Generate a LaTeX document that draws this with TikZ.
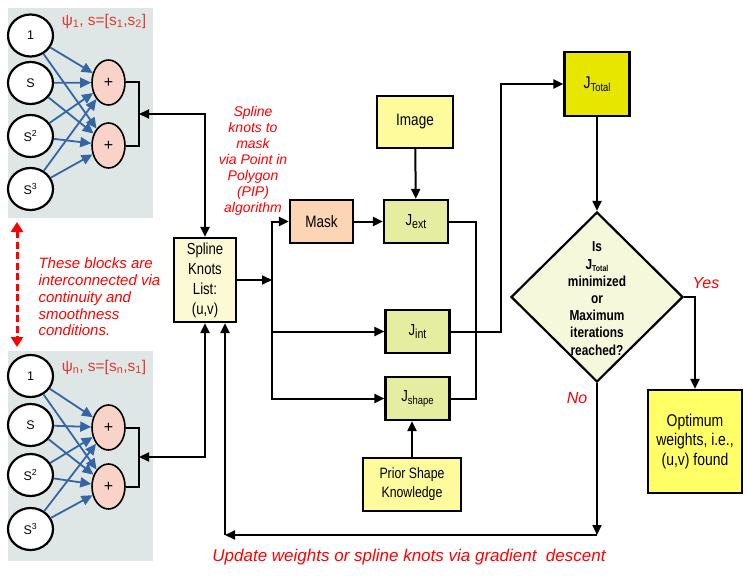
\documentclass[tikz,border=0pt]{standalone}
\usepackage{fontspec}
\setmainfont{Liberation Sans}
\newfontfamily\nar[FakeStretch=0.82]{Liberation Sans}
\usetikzlibrary{arrows.meta,shapes.geometric,calc}
\definecolor{panelc}{HTML}{DFE6E6}
\definecolor{plusc}{HTML}{F9D3C8}
\definecolor{skc}{HTML}{FCFAD5}
\definecolor{maskc}{HTML}{FCD5B4}
\definecolor{jc}{HTML}{E5EEA0}
\definecolor{imgc}{HTML}{FDFB9C}
\definecolor{jtc}{HTML}{E6E600}
\definecolor{diac}{HTML}{F6F8DC}
\definecolor{optc}{HTML}{FFFF66}
\definecolor{psic}{HTML}{DD3B30}
\definecolor{netblue}{HTML}{3465A4}
\definecolor{redc}{HTML}{FF0000}
\newcommand{\Jlab}[2]{J\raisebox{-0.3ex}{\fontsize{#2}{#2}\selectfont #1}}
\begin{document}
\begin{tikzpicture}[x=1pt,y=-1pt,
 blk/.style={draw=black, line width=2.2pt, inner sep=0pt, align=center, font=\nar\fontsize{16}{20}\selectfont},
 inp/.style={ellipse, draw=black, line width=2.2pt, fill=white, minimum width=45pt, minimum height=42pt, inner sep=0pt, font=\fontsize{12.5}{12.5}\selectfont},
 plusn/.style={ellipse, draw=black, line width=1.6pt, fill=plusc, minimum width=33pt, minimum height=45pt, inner sep=0pt, font=\fontsize{16}{16}\selectfont},
 barr/.style={draw=netblue, line width=1.8pt, -{Triangle[length=11pt,width=10pt]}},
 kline/.style={line width=2pt, line cap=rect},
 karr/.style={line width=2pt, -{Triangle[length=10pt,width=9pt]}},
 karrr/.style={line width=2pt, {Triangle[length=10pt,width=9pt]}-{Triangle[length=10pt,width=9pt]}},
 redlab/.style={text=redc, font=\itshape\fontsize{15}{16.8}\selectfont},
 psilab/.style={text=psic, font=\fontsize{15.5}{16}\selectfont}
]
\useasboundingbox (0,0) rectangle (747,578);
% panels
\fill[panelc] (8,8) rectangle (153,218);
\fill[panelc] (8,351) rectangle (153,561);
% top network
\node[inp] (a1) at (30.5,35.5) {1};
\node[inp] (a2) at (30.5,83) {S};
\node[inp] (a3) at (30.5,136) {S\textsuperscript{2}};
\node[inp] (a4) at (30.5,189) {S\textsuperscript{3}};
\node[plusn] (ap1) at (108.5,82.5) {+};
\node[plusn] (ap2) at (108.5,145.5) {+};
\node[psilab] (apsi) at (104,21) {ψ\textsubscript{1}, s=[s\textsubscript{1},s\textsubscript{2}]};
\foreach \i in {a1,a2,a3,a4}{
  \draw[barr] (\i) -- (ap1);
  \draw[barr] (\i) -- (ap2);
}
% bottom network
\node[inp] (b1) at (30.5,376) {1};
\node[inp] (b2) at (30.5,425) {S};
\node[inp] (b3) at (30.5,475) {S\textsuperscript{2}};
\node[inp] (b4) at (30.5,529) {S\textsuperscript{3}};
\node[plusn] (bp1) at (108.5,427.5) {+};
\node[plusn] (bp2) at (108.5,486.5) {+};
\node[psilab] (bpsi) at (104,367) {ψ\textsubscript{n}, s=[s\textsubscript{n},s\textsubscript{1}]};
\foreach \i in {b1,b2,b3,b4}{
  \draw[barr] (\i) -- (bp1);
  \draw[barr] (\i) -- (bp2);
}
% brackets
\coordinate (ab) at (139,114);
\coordinate (bb) at (139,457);
\draw[line width=2pt] (ap1.east) -| (ab) |- (ap2.east);
\draw[line width=2pt] (bp1.east) -| (bb) |- (bp2.east);
% red dashed arrow and label
\coordinate (rd1) at (17,222);
\coordinate (rd2) at (17,347);
\draw[draw=redc, fill=redc, line width=3pt, dash pattern=on 7pt off 3.5pt, {Triangle[length=10pt,width=12pt]}-{Triangle[length=10pt,width=12pt]}] (rd1) -- (rd2);
\node[redlab, anchor=west, align=left] (cont) at (35,297) {These blocks are\\interconnected via\\continuity and\\smoothness\\conditions.};
% spline knots list
\node[blk, fill=skc, minimum width=62pt, minimum height=84pt] (sk) at (205,280) {Spline\\Knots\\List:\\(u,v)};
\node[redlab, align=center, font=\itshape\fontsize{14}{16}\selectfont] (pip) at (253,160.5) {Spline\\knots to\\mask\\via Point in\\Polygon\\(PIP)\\algorithm};
\draw[karrr] (ab) -| (sk.north);
\draw[karrr] (bb) -| (sk.south);
% middle boxes
\node[blk, fill=maskc, minimum width=63pt, minimum height=43pt, font=\nar\fontsize{16.5}{20}\selectfont] (mask) at (321.5,221.5) {Mask};
\node[blk, fill=jc, minimum width=64pt, minimum height=43pt, font=\nar\fontsize{16}{20}\selectfont] (jext) at (416,221.5) {\Jlab{ext}{13}};
\node[blk, fill=imgc, minimum width=76pt, minimum height=52pt, font=\nar\fontsize{16.5}{20}\selectfont] (img) at (415,122) {Image};
\node[blk, fill=jc, minimum width=64pt, minimum height=43pt, font=\nar\fontsize{16}{20}\selectfont] (jint) at (417.5,331.5) {\Jlab{int}{13}};
\node[blk, fill=jc, minimum width=64pt, minimum height=43pt, font=\nar\fontsize{16}{20}\selectfont] (jshape) at (417.5,398.5) {\Jlab{shape}{11.5}};
\node[blk, fill=imgc, minimum width=98pt, minimum height=53pt, font=\nar\fontsize{15}{19}\selectfont] (prior) at (412,484.5) {Prior Shape\\Knowledge};
% left bus
\coordinate (lbt) at (272,221.5);
\coordinate (lbb) at (272,398.5);
\draw[kline] (lbt) -- (lbb);
\draw[karr] (sk.east) -- (sk.east -| lbt);
\draw[karr] (lbt) -- (mask);
\draw[karr] (lbt |- jint) -- (jint);
\draw[karr] (lbb) -- (jshape);
\draw[karr] (mask) -- (jext);
\draw[karr] (img) -- (jext);
\draw[karr] (prior.north) -- (prior.north |- jshape.south);
% right bus
\coordinate (rb) at (476,310);
\draw[line width=2pt] (jext.east) -| (rb) |- (jshape.east);
% total
\node[blk, fill=jtc, minimum width=65pt, minimum height=64pt, font=\nar\fontsize{17}{20}\selectfont] (jtot) at (597,84) {\Jlab{Total}{11.5}};
\coordinate (tr) at (501,84);
\draw[karr] (jint.east) -| (tr) -- (jtot.west);
% diamond
\node[diamond, draw=black, line width=2.2pt, fill=diac, minimum width=172pt, minimum height=170pt, inner sep=0pt] (dia) at (597,297) {};
\node[align=center, font=\nar\bfseries\fontsize{14.5}{17.2}\selectfont] (diat) at (597,298.5) {Is\\J\raisebox{-0.3ex}{\fontsize{8.5}{8.5}\selectfont Total}\\minimized\\or\\Maximum\\iterations\\reached?};
\draw[karr] (jtot) -- (dia);
% optimum
\node[blk, fill=optc, minimum width=94pt, minimum height=103pt, font=\nar\fontsize{17}{19.5}\selectfont] (opt) at (695,441.5) {Optimum\\weights, i.e.,\\(u,v) found};
\draw[karr] (dia.east) -| (opt.north);
\node[redlab, font=\itshape\fontsize{16}{16}\selectfont] (yes) at (706,283) {Yes};
\node[redlab, font=\itshape\fontsize{16}{16}\selectfont] (no) at (577,398) {No};
% feedback loop
\coordinate (cno) at (597,535);
\coordinate (cleft) at (225,535);
\draw[karr] (dia.south) -- (cno);
\draw[karr] (cno) -- (cleft);
\draw[karr] (cleft) -- (cleft |- sk.south);
\node[redlab, font=\itshape\fontsize{17}{17}\selectfont] (upd) at (409,557) {Update weights or spline knots via gradient\ \ descent};
\end{tikzpicture}
\end{document}
